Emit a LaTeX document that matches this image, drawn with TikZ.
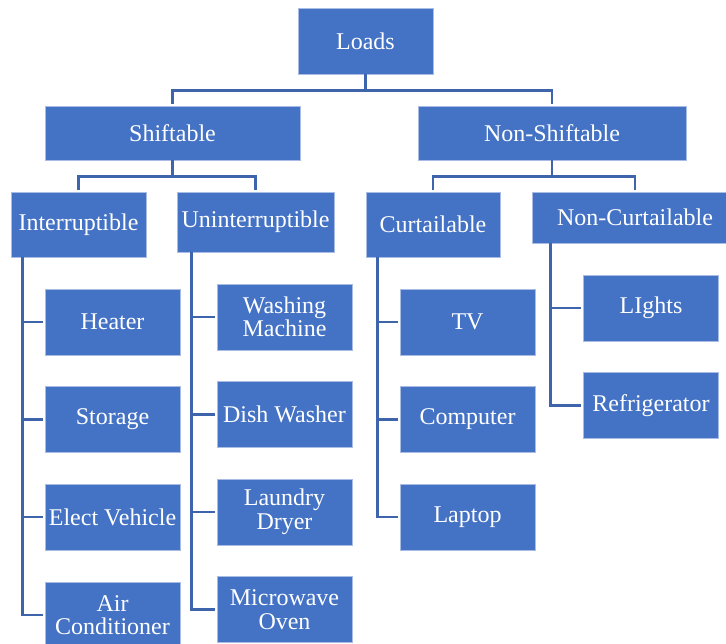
\documentclass[tikz,border=0pt]{standalone}
\usepackage{fontspec}
\setmainfont{Liberation Serif}
\definecolor{boxblue}{HTML}{4472C4}
\definecolor{boxedge}{HTML}{A9BCE3}
\definecolor{linkblue}{HTML}{3E64AC}

\begin{document}
\begin{tikzpicture}[x=1pt, y=-1pt,
	blk/.style={draw=boxedge, line width=0.8pt, fill=boxblue, text=white, inner sep=1pt,
		align=center, font=\fontsize{24}{23.5}\selectfont,
		minimum width=135pt, minimum height=66pt},
	link/.style={draw=linkblue, line width=2.4pt, shorten >=2pt}]
	\useasboundingbox (0,0) rectangle (726,644);
	%%% Radice
	\node[blk] (loads) at (365.5,41) {Loads};
	%%% Primo livello
	\node[blk, minimum width=255pt, minimum height=54pt] (shift) at (172.5,133) {Shiftable};
	\node[blk, minimum width=268pt, minimum height=54pt] (nshift) at (552,133) {Non-Shiftable};
	%%% Secondo livello
	\node[blk, minimum height=65pt] (intr) at (78.5,224.5) {Interruptible};
	\node[blk, minimum width=157pt, minimum height=60pt] (unintr) at (255.5,222) {Uninterruptible};
	\node[blk, minimum width=134pt, minimum height=65pt] (curt) at (433,224.5) {Curtailable};
	\node[blk, minimum width=206pt, minimum height=51pt] (ncurt) at (635,217.5) {Non-Curtailable};
	%%% Carichi interrompibili
	\node[blk] (heater) at (112.5,322) {Heater};
	\node[blk] (storage) at (112.5,419.5) {Storage};
	\node[blk] (elect) at (112.5,517) {Elect Vehicle};
	\node[blk] (aircon) at (112.5,615) {Air\\Conditioner};
	%%% Carichi non interrompibili
	\node[blk] (washing) at (284.5,317) {Washing\\Machine};
	\node[blk] (dish) at (284.5,414.5) {Dish Washer};
	\node[blk] (laundry) at (284.5,512) {Laundry\\Dryer};
	\node[blk] (micro) at (284.5,609.5) {Microwave\\Oven};
	%%% Carichi riducibili
	\node[blk] (tv) at (467.5,322) {TV};
	\node[blk] (computer) at (467.5,419.5) {Computer};
	\node[blk] (laptop) at (467.5,517) {Laptop};
	%%% Carichi non riducibili
	\node[blk] (lights) at (651,308) {LIghts};
	\node[blk] (fridge) at (651,405.5) {Refrigerator};
	
	%%% Collegamenti ad albero
	\draw[link] (loads.south) -- ++(0,16) -| (shift.north);
	\draw[link] (loads.south) -- ++(0,16) -| (nshift.north);
	\draw[link] (shift.south) -- ++(0,16) -| (intr.north);
	\draw[link] (shift.south) -- ++(0,16) -| (unintr.north);
	\draw[link] (nshift.south) -- ++(0,16) -| (curt.north);
	\draw[link] (nshift.south) -- ++(0,16) -| (ncurt.north);
	%%% Tronchi verticali
	\coordinate (intr-t) at ([xshift=12pt]intr.south west);
	\coordinate (unintr-t) at ([xshift=15pt]unintr.south west);
	\coordinate (curt-t) at ([xshift=12pt]curt.south west);
	\coordinate (ncurt-t) at ([xshift=19pt]ncurt.south west);
	\foreach \c in {heater, storage, elect, aircon}
	\draw[link] (intr-t) |- (\c.west);
	\foreach \c in {washing, dish, laundry, micro}
	\draw[link] (unintr-t) |- (\c.west);
	\foreach \c in {tv, computer, laptop}
	\draw[link] (curt-t) |- (\c.west);
	\foreach \c in {lights, fridge}
	\draw[link] (ncurt-t) |- (\c.west);
\end{tikzpicture}
\end{document}
